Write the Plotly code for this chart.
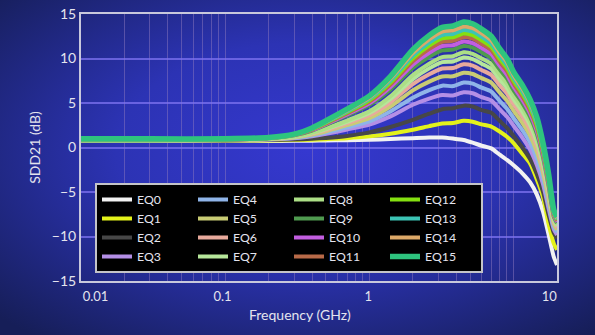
import base64
import plotly.graph_objects as go

# Frequency sweep points (GHz)
freq_ghz = [0.01, 0.03, 0.1, 0.2, 0.3, 0.4, 0.5, 0.7, 1.0, 1.4, 2.0, 2.6, 3.2, 3.8,
            4.5, 5.2, 6.0, 7.0, 8.0, 9.0, 10.0, 11.5, 13.0, 14.5, 16.0, 17.5, 19.0, 20.0]

# SDD21 (dB) for each equalizer setting
eq0 = [0.72, 0.72, 0.73, 0.74, 0.75, 0.77, 0.79, 0.82, 0.87, 0.95, 1.05, 1.12, 1.12, 1.0,
       0.85, 0.55, 0.2, -0.1, -0.8, -1.4, -2.0, -2.9, -3.9, -5.3, -7.2, -9.8, -12.3, -13.2]
eq1 = [0.76, 0.76, 0.78, 0.8, 0.83, 0.88, 0.94, 1.05, 1.25, 1.55, 2.0, 2.4, 2.7, 2.75,
       3.0, 2.9, 2.6, 2.35, 1.8, 1.2, 0.5, -0.7, -1.8, -3.6, -5.6, -8.6, -10.8, -11.5]
eq2 = [0.78, 0.78, 0.8, 0.84, 0.9, 0.98, 1.08, 1.3, 1.7, 2.3, 3.1, 3.8, 4.3, 4.42,
       4.7, 4.6, 4.2, 3.9, 3.0, 2.2, 1.3, 0.0, -1.3, -3.0, -5.0, -7.6, -9.6, -10.2]
eq3 = [0.8, 0.8, 0.83, 0.9, 1.03, 1.26, 1.53, 2.02, 2.58, 3.5, 4.8, 5.5, 5.9, 5.85,
       6.2, 6.09, 5.66, 5.28, 4.3, 3.45, 2.45, 1.12, -0.23, -1.98, -4.12, -6.86, -9.18, -9.82]
eq4 = [0.8, 0.8, 0.83, 0.92, 1.07, 1.35, 1.68, 2.26, 2.95, 4.05, 5.6, 6.45, 6.95, 6.9,
       7.3, 7.18, 6.72, 6.28, 5.24, 4.36, 3.29, 1.94, 0.56, -1.23, -3.48, -6.33, -8.88, -9.54]
eq5 = [0.8, 0.8, 0.84, 0.94, 1.12, 1.45, 1.83, 2.51, 3.31, 4.6, 6.42, 7.4, 7.98, 8.0,
       8.4, 8.26, 7.79, 7.29, 6.19, 5.27, 4.14, 2.76, 1.34, -0.48, -2.83, -5.79, -8.58, -9.25]
eq6 = [0.8, 0.8, 0.84, 0.95, 1.16, 1.53, 1.95, 2.72, 3.62, 5.08, 7.13, 8.24, 8.88, 8.93,
       9.35, 9.2, 8.7, 8.16, 7.01, 6.06, 4.86, 3.47, 2.02, 0.17, -2.28, -5.32, -8.31, -9.01]
eq7 = [0.8, 0.8, 0.85, 0.97, 1.19, 1.59, 2.06, 2.89, 3.87, 5.45, 7.68, 8.89, 9.59, 9.66,
       10.1, 9.94, 9.42, 8.84, 7.65, 6.68, 5.43, 4.02, 2.55, 0.67, -1.84, -4.96, -8.11, -8.82]
eq8 = [0.8, 0.8, 0.85, 0.98, 1.22, 1.64, 2.14, 3.03, 4.07, 5.75, 8.13, 9.41, 10.16, 10.25,
       10.7, 10.53, 10.01, 9.39, 8.17, 7.18, 5.89, 4.47, 2.97, 1.08, -1.49, -4.67, -7.94, -8.67]
eq9 = [0.82, 0.82, 0.88, 1.04, 1.36, 1.91, 2.55, 3.59, 4.79, 6.53, 8.93, 10.2, 10.92, 11.0,
       11.4, 11.23, 10.69, 10.03, 8.78, 7.76, 6.43, 4.99, 3.48, 1.56, -1.08, -4.32, -7.75, -8.49]
eq10 = [0.84, 0.84, 0.88, 1.06, 1.39, 1.97, 2.63, 3.72, 4.97, 6.81, 9.31, 10.65, 11.4, 11.48,
        11.9, 11.72, 11.17, 10.49, 9.2, 8.17, 6.82, 5.36, 3.83, 1.9, -0.79, -4.08, -7.61, -8.36]
eq11 = [0.86, 0.86, 0.89, 1.07, 1.42, 2.02, 2.71, 3.85, 5.16, 7.08, 9.7, 11.09, 11.88, 11.98,
        12.4, 12.22, 11.65, 10.94, 9.63, 8.59, 7.2, 5.73, 4.19, 2.24, -0.5, -3.83, -7.47, -8.23]
eq12 = [0.88, 0.88, 0.9, 1.08, 1.44, 2.06, 2.78, 3.96, 5.31, 7.29, 10.0, 11.44, 12.26, 12.37,
        12.8, 12.62, 12.04, 11.31, 9.98, 8.92, 7.51, 6.03, 4.48, 2.52, -0.26, -3.63, -7.36, -8.13]
eq13 = [0.9, 0.9, 0.92, 1.09, 1.46, 2.1, 2.85, 4.06, 5.46, 7.51, 10.31, 11.8, 12.64, 12.76,
        13.2, 13.01, 12.43, 11.67, 10.32, 9.25, 7.81, 6.33, 4.76, 2.79, -0.03, -3.44, -7.25, -8.03]
eq14 = [0.93, 0.93, 0.95, 1.1, 1.48, 2.14, 2.91, 4.17, 5.61, 7.73, 10.62, 12.15, 13.02, 13.16,
        13.6, 13.41, 12.82, 12.04, 10.67, 9.59, 8.12, 6.63, 5.04, 3.06, 0.21, -3.24, -7.14, -7.93]
eq15 = [0.97, 0.97, 0.98, 1.12, 1.5, 2.2, 3.0, 4.3, 5.8, 8.0, 11.0, 12.6, 13.5, 13.65,
        14.1, 13.9, 13.3, 12.5, 11.1, 10.0, 8.5, 7.0, 5.4, 3.4, 0.5, -3.0, -7.0, -7.8]

series_names = ["EQ0", "EQ1", "EQ2", "EQ3", "EQ4", "EQ5", "EQ6", "EQ7",
                "EQ8", "EQ9", "EQ10", "EQ11", "EQ12", "EQ13", "EQ14", "EQ15"]
series_values = [eq0, eq1, eq2, eq3, eq4, eq5, eq6, eq7,
                 eq8, eq9, eq10, eq11, eq12, eq13, eq14, eq15]
series_colors = ["#f2f2f2", "#e3f21a", "#474747", "#b48fe6", "#8fb4e8", "#c9cc74",
                 "#e8aa9c", "#b6e69a", "#acdf86", "#4f9a4f", "#c25ee0", "#b86a48",
                 "#84e010", "#3cc4b4", "#dca868", "#2ec47e"]

y_ticks = [-15, -10, -5, 0, 5, 10, 15]
x_tick_labels = ["0.01", "0.1", "1", "10"]
x_grid_values = [m * 10.0 ** e for e in (-2, -1, 0) for m in range(1, 10)] + [10.0]

# layout geometry
W, H = 595, 335
ML, MR, MT, MB = 81, 38, 14, 54
PW, PH = W - ML - MR, H - MT - MB
x_label_pos = [0.0126, 0.0958, 0.981, 17.7]

TEXT = "#e4e4ee"
FONT = "Lato, 'Open Sans', sans-serif"

fig = go.Figure()
for i, (name, vals, col) in enumerate(zip(series_names, series_values, series_colors)):
    fig.add_trace(go.Scatter(
        x=freq_ghz, y=vals, name=name, mode="lines",
        line=dict(color=col, width=5.5 if i == 15 else 4, shape="spline", smoothing=0.6),
        legendrank=(i % 4) * 4 + i // 4 + 1,
    ))

# radial blue backdrop covering the whole canvas
bg_svg = (
    f'<svg xmlns="http://www.w3.org/2000/svg" width="{W}" height="{H}" '
    f'viewBox="0 0 {W} {H}" preserveAspectRatio="none">'
    '<defs><radialGradient id="g" cx="52%" cy="45%" r="72%">'
    '<stop offset="0%" stop-color="#3538d0"/>'
    '<stop offset="45%" stop-color="#2c33b4"/>'
    '<stop offset="100%" stop-color="#161e58"/>'
    '</radialGradient></defs>'
    f'<rect width="{W}" height="{H}" fill="url(#g)"/></svg>'
)
bg_uri = "data:image/svg+xml;base64," + base64.b64encode(bg_svg.encode()).decode()
fig.add_layout_image(
    source=bg_uri, xref="paper", yref="paper",
    x=-ML / PW, y=1 + MT / PH, sizex=W / PW, sizey=H / PH,
    xanchor="left", yanchor="top", sizing="stretch", layer="below",
)

fig.add_annotation(
    text="Frequency (GHz)", xref="paper", yref="paper",
    x=(300 - ML) / PW, y=1 - (314 - MT) / PH,
    showarrow=False, font=dict(family=FONT, size=14, color=TEXT),
    xanchor="center", yanchor="middle",
)

fig.update_layout(
    width=W, height=H,
    margin=dict(l=ML, r=MR, t=MT, b=MB, autoexpand=False),
    paper_bgcolor="#1f2a80",
    plot_bgcolor="rgba(64,60,240,0.24)",
    font=dict(family=FONT, size=13, color=TEXT),
    showlegend=True,
    legend=dict(
        orientation="h", x=(95 - ML) / PW, y=1 - (183 - MT) / PH,
        xanchor="left", yanchor="top",
        bgcolor="#000000", bordercolor="#c4c4c8", borderwidth=2,
        font=dict(family=FONT, size=12.3, color=TEXT),
        entrywidth=51, entrywidthmode="pixels",
        traceorder="normal",
    ),
    xaxis=dict(
        type="log", range=[-2, 1.30103], automargin=False,
        tickmode="array", tickvals=x_label_pos, ticktext=x_tick_labels,
        ticks="", showgrid=False, zeroline=False,
        tickfont=dict(family=FONT, size=13, color=TEXT),
        ticklabelstandoff=2,
        minor=dict(tickmode="array", tickvals=x_grid_values, showgrid=True,
                   gridcolor="rgba(140,120,190,0.5)", gridwidth=1, ticks=""),
        showline=True, linecolor="#c8c8dc", linewidth=2, mirror=True,
    ),
    yaxis=dict(
        range=[-15, 15], tickmode="array", tickvals=y_ticks, automargin=False,
        ticks="", showgrid=True, gridcolor="rgba(125,115,240,0.75)", gridwidth=1.5,
        zeroline=False,
        tickfont=dict(family=FONT, size=14, color=TEXT),
        title=dict(text="SDD21 (dB)", font=dict(family=FONT, size=14, color=TEXT), standoff=8),
        showline=True, linecolor="#c8c8dc", linewidth=2, mirror=True,
    ),
)

fig.write_html("out.html")
